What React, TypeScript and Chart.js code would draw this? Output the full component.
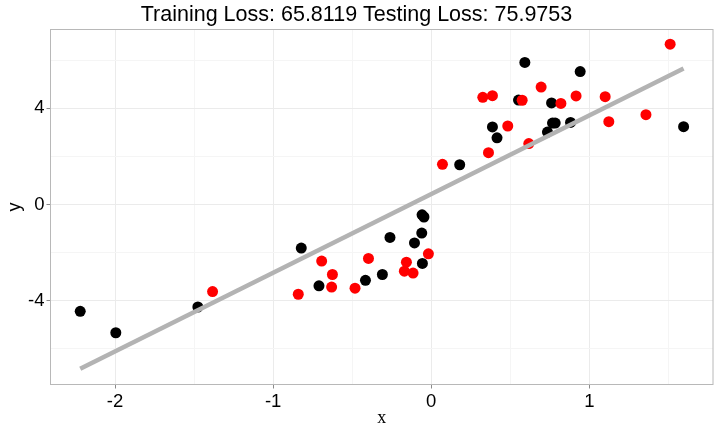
import React, { useEffect, useRef } from "react";
import { Chart, registerables } from "chart.js";

Chart.register(...registerables);

// ---- data ----
const trainX = [-2.22, -1.995, -1.476, -0.822, -0.71, -0.416, -0.309, -0.261, -0.106, -0.06, -0.058, -0.046, -0.056, 0.18, 0.387, 0.416, 0.592, 0.552, 0.735, 0.767, 0.784, 0.761, 0.881, 0.942, 1.596];
const trainY = [-4.44, -5.33, -4.26, -1.81, -3.38, -3.15, -2.91, -1.37, -1.6, -1.19, -0.43, -0.52, -2.45, 1.65, 3.22, 2.77, 5.9, 4.34, 3.01, 3.38, 3.38, 4.22, 3.41, 5.52, 3.23];
const testX = [-1.383, -0.841, -0.693, -0.625, -0.63, -0.482, -0.397, -0.157, -0.17, -0.115, -0.018, 0.071, 0.362, 0.326, 0.387, 0.484, 0.575, 0.617, 0.695, 0.82, 0.916, 1.1, 1.123, 1.358, 1.511];
const testY = [-3.62, -3.73, -2.35, -2.91, -3.43, -3.48, -2.24, -2.4, -2.77, -2.85, -2.05, 1.67, 2.15, 4.45, 4.52, 3.26, 4.33, 2.53, 4.88, 4.2, 4.51, 4.48, 3.44, 3.73, 6.66];
const fitX = [-2.22, 1.596];
const fitY = [-6.83, 5.65];

const xMajorTicks = [-2, -1, 0, 1];
const xMinorTicks = [-1.5, -0.5, 0.5, 1.5];
const yMajorTicks = [-4, 0, 4];
const yMinorTicks = [-6, -2, 2, 6];
const xLimits = [-2.408, 1.782];
const yLimits = [-7.48, 7.27];

const titleText = "Training Loss: 65.8119 Testing Loss: 75.9753";
const xTitle = "x";
const yTitle = "y";

const toPoints = (xs: number[], ys: number[]) => xs.map((x, i) => ({ x, y: ys[i] }));

const panelBorder = {
  id: "panelBorder",
  afterDraw(chart: any) {
    const { ctx, chartArea } = chart;
    const { left, top, right, bottom } = chartArea;
    ctx.save();
    ctx.strokeStyle = "#b8b8b8";
    ctx.lineWidth = 1;
    ctx.strokeRect(left, top, right - left, bottom - top);
    ctx.restore();
  },
};

const gridColor = (majors: number[]) => (ctx: any) =>
  ctx.tick && majors.includes(ctx.tick.value) ? "#ebebeb" : "#f5f5f5";
const tickColor = (majors: number[]) => (ctx: any) =>
  ctx.tick && majors.includes(ctx.tick.value) ? "#8a8a8a" : "rgba(0,0,0,0)";

export default function App() {
  const canvasRef = useRef<HTMLCanvasElement | null>(null);

  useEffect(() => {
    if (!canvasRef.current) return;
    const tickFont = { family: "'Liberation Sans', Arial, sans-serif", size: 18.5 };
    const chart = new Chart(canvasRef.current, {
      type: "scatter",
      data: {
        datasets: [
          {
            type: "line",
            data: toPoints(fitX, fitY),
            borderColor: "#b3b3b3",
            borderWidth: 4.5,
            pointRadius: 0,
            showLine: true,
            fill: false,
            order: 0,
          } as any,
          {
            data: toPoints(testX, testY),
            backgroundColor: "#ff0000",
            borderWidth: 0,
            pointRadius: 5.5,
            pointHoverRadius: 5.5,
            order: 1,
          },
          {
            data: toPoints(trainX, trainY),
            backgroundColor: "#000000",
            borderWidth: 0,
            pointRadius: 5.5,
            pointHoverRadius: 5.5,
            order: 2,
          },
        ],
      },
      options: {
        responsive: false,
        animation: false,
        events: [],
        layout: { padding: { left: 0, right: 7, top: 0, bottom: 0 } },
        plugins: {
          legend: { display: false },
          tooltip: { enabled: false },
          title: {
            display: true,
            text: titleText,
            color: "#000000",
            font: { family: "'Liberation Sans', Arial, sans-serif", size: 21.5, weight: "normal" },
            padding: { top: 2, bottom: 1.7 },
          },
        },
        scales: {
          x: {
            type: "linear",
            min: xLimits[0],
            max: xLimits[1],
            afterBuildTicks: (s: any) => {
              s.ticks = [...xMajorTicks, ...xMinorTicks].sort((a, b) => a - b).map((value) => ({ value }));
            },
            afterFit: (s: any) => {
              s.height = 47.5;
            },
            ticks: {
              autoSkip: false,
              maxRotation: 0,
              padding: 2,
              color: "#000000",
              font: tickFont,
              callback: (v: any) => (xMajorTicks.includes(Number(v)) ? String(v) : ""),
            },
            grid: {
              color: gridColor(xMajorTicks),
              tickColor: tickColor(xMajorTicks),
              lineWidth: 1,
              tickLength: 4,
              drawTicks: true,
            },
            border: { display: false },
            title: {
              display: true,
              text: xTitle,
              color: "#000000",
              font: { family: "'Liberation Serif', 'Times New Roman', serif", size: 18 },
              padding: { top: 0, bottom: 3 },
            },
          },
          y: {
            type: "linear",
            min: yLimits[0],
            max: yLimits[1],
            afterBuildTicks: (s: any) => {
              s.ticks = [...yMajorTicks, ...yMinorTicks].sort((a, b) => a - b).map((value) => ({ value }));
            },
            afterFit: (s: any) => {
              s.width = 50.5;
            },
            ticks: {
              autoSkip: false,
              padding: 2,
              color: "#000000",
              font: tickFont,
              callback: (v: any) => (yMajorTicks.includes(Number(v)) ? String(v) : ""),
            },
            grid: {
              color: gridColor(yMajorTicks),
              tickColor: tickColor(yMajorTicks),
              lineWidth: 1,
              tickLength: 4,
              drawTicks: true,
            },
            border: { display: false },
            title: {
              display: true,
              text: yTitle,
              color: "#000000",
              font: { family: "'Liberation Sans', Arial, sans-serif", size: 18 },
              padding: { top: 4, bottom: 0 },
            },
          },
        },
      },
      plugins: [panelBorder],
    });
    return () => chart.destroy();
  }, []);

  return (
    <div style={{ position: "absolute", left: 0, top: 0, width: 720, height: 432, background: "#ffffff" }}>
      <canvas ref={canvasRef} width={720} height={432} style={{ display: "block" }} />
    </div>
  );
}
